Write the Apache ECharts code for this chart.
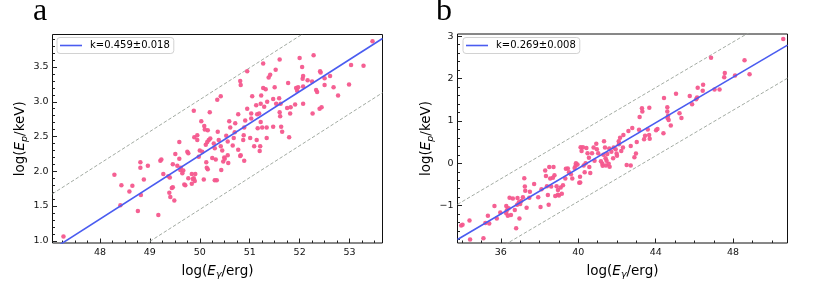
<!DOCTYPE html>
<html><head><meta charset="utf-8">
<script src="https://cdn.jsdelivr.net/npm/echarts@6/dist/echarts.min.js"></script>
<style>html,body{margin:0;padding:0;background:#fff}#c{width:830px;height:285px}</style>
</head><body><div id="c"></div>
<script>
// ---------- data ----------
const panelLabels = ['a', 'b'];
const legendTexts = ['k=0.459±0.018', 'k=0.269±0.008'];

const aPoints = [
[47.27,1.06],
[48.29,1.95],[48.43,1.80],[48.41,1.51],[48.59,1.71],[48.65,1.79],[48.76,1.43],[48.81,2.13],[48.81,2.05],[48.82,1.66],[48.88,1.88],[48.96,2.08],
[49.17,1.37],[49.21,2.15],[49.23,2.17],[49.27,1.96],[49.37,1.93],[49.40,1.91],[49.39,1.69],[49.41,1.63],[49.44,1.76],[49.46,1.77],[49.49,1.58],[49.46,2.10],[49.51,2.25],[49.59,2.42],[49.61,2.02],[49.59,2.18],[49.62,2.05],[49.67,2.01],[49.69,1.81],[49.71,1.80],[49.75,2.28],[49.77,2.26],[49.77,1.90],[49.84,1.96],[49.84,1.82],[49.86,1.89],[49.88,1.90],[49.89,2.49],[49.90,1.86],[49.91,1.96],[49.95,2.52],[49.95,2.45],[49.98,2.21],[49.88,2.87],[49.65,1.97],[49.55,2.08],
[50.03,2.72],[50.08,1.88],[50.09,2.65],[50.10,2.60],[50.13,2.13],[50.14,2.05],[50.16,2.03],[50.16,2.59],[50.18,2.45],[50.20,2.85],[50.21,2.47],[50.30,1.87],[50.32,2.17],[50.35,3.03],[50.42,3.08],[50.36,2.57],[50.34,1.87],[50.43,2.02],[50.42,2.36],[50.45,2.30],[50.49,2.20],[50.56,2.23],[50.57,2.12],[50.53,2.51],[50.56,2.43],[50.59,2.72],[50.61,2.63],[50.66,2.37],[50.68,2.48],[50.70,2.56],[50.71,2.69],[50.77,2.82],[50.77,2.31],[50.81,2.22],[50.81,3.30],[50.82,3.24],[50.82,2.23],[50.87,2.45],[50.88,2.52],[50.89,2.63],[50.89,2.15],[50.91,2.73],[50.95,2.90],[50.95,3.44],
[50.00,2.30],[50.05,2.28],[50.12,2.38],[50.15,2.42],[50.25,2.19],[50.28,2.40],[50.30,2.33],[50.38,2.45],[50.47,2.14],[50.50,2.18],
[51.01,2.48],[51.03,2.76],[51.03,2.83],[51.05,3.08],[51.09,2.36],[51.13,2.95],[51.14,2.45],[51.15,2.82],[51.16,2.62],[51.20,2.29],[51.21,2.36],[51.19,2.83],[51.22,2.71],[51.22,2.97],[51.23,3.09],[51.25,2.63],[51.27,3.55],[51.27,3.20],[51.29,2.93],[51.32,3.18],[51.34,2.63],[51.34,2.48],[51.35,3.00],[51.38,3.35],[51.41,3.39],[51.47,3.04],[51.47,2.64],[51.50,3.21],[51.52,3.46],[51.53,2.97],[51.59,3.05],[51.60,3.61],[51.60,2.85],[51.61,2.79],[51.62,2.97],[51.63,2.64],[51.65,2.57],[51.75,2.91],[51.77,3.27],[51.79,2.49],[51.81,2.83],[51.82,2.92],[51.91,2.96],[51.93,3.20],[51.95,3.16],[51.97,3.21],
[52.00,3.63],[52.05,3.50],[52.06,3.33],[52.07,3.37],[52.07,3.22],[52.07,2.97],[52.16,3.31],[52.25,3.29],[52.26,2.83],[52.28,3.67],[52.33,3.17],[52.35,3.14],[52.40,2.90],[52.44,2.92],[52.41,3.44],[52.42,3.42],[52.50,3.34],[52.50,3.24],[52.61,3.37],[52.68,3.21],[52.77,3.09],[52.99,3.25],[53.03,3.53],[53.28,3.52],[53.46,3.87]
];

const bPoints = [
[33.95,-1.47],[34.02,-1.45],[34.38,-1.35],[34.41,-1.80],[35.10,-1.77],[35.20,-1.41],[35.33,-1.24],[35.40,-1.42],[35.67,-1.01],[35.79,-1.30],[35.97,-1.16],
[36.28,-1.01],[36.28,-1.18],[36.31,-1.11],[36.36,-1.24],[36.40,-1.06],[36.45,-0.81],[36.52,-1.22],[36.62,-0.83],[36.72,-1.10],[36.79,-1.53],[36.84,-0.98],[36.86,-0.82],[36.93,-0.92],[36.96,-1.30],[37.00,-0.96],[37.05,-0.89],[37.14,-0.80],[37.21,-0.35],[37.24,-0.55],[37.26,-0.65],[37.33,-1.05],[37.47,-0.81],[37.50,-0.67],[37.72,-0.49],[37.93,-0.80],
[38.05,-1.03],[38.10,-0.61],[38.29,-0.17],[38.33,-0.30],[38.38,-0.54],[38.43,-0.75],[38.47,-0.98],[38.50,-0.09],[38.55,-0.36],[38.60,-0.55],[38.69,-0.34],[38.72,-0.09],[38.77,-0.28],[38.81,-0.77],[38.88,-0.54],[38.95,-0.63],[38.95,-0.74],[39.00,-0.76],[39.09,-0.57],[39.15,-0.72],[39.21,-0.52],[39.33,-0.36],[39.36,-0.13],[39.46,-0.12],[39.52,-0.21],[39.62,-0.26],[39.69,-0.36],[39.81,-0.11],[39.86,-0.06],[39.88,0.00],[39.96,-0.03],
[40.05,-0.46],[40.09,-0.32],[40.12,0.38],[40.17,0.29],[40.10,-0.45],[40.24,0.38],[40.28,-0.05],[40.33,-0.21],[40.38,0.00],[40.42,0.36],[40.48,0.24],[40.55,0.13],[40.62,-0.23],[40.57,-0.09],[40.71,0.24],[40.79,0.37],[40.84,0.06],[40.93,0.46],[40.96,0.33],
[41.03,0.24],[41.17,0.05],[41.24,-0.01],[41.26,-0.06],[41.33,0.52],[41.38,0.37],[41.41,0.12],[41.43,-0.05],[41.50,0.22],[41.57,-0.01],[41.62,-0.08],[41.71,0.27],[41.83,0.37],[41.93,0.33],[41.98,0.23],[41.30,0.20],[41.46,0.06],[41.60,0.35],[41.80,0.12],[42.00,0.18],[42.10,0.45],
[42.09,0.52],[42.16,0.60],[42.22,0.29],[42.31,0.37],[42.50,-0.04],[42.33,0.67],[42.59,0.76],[42.71,0.41],[42.71,-0.05],[42.79,0.83],[42.98,0.23],[42.90,0.14],
[43.02,0.50],[43.14,0.79],[43.17,1.09],[43.29,1.30],[43.31,1.22],[43.40,0.57],[43.45,0.65],[43.59,0.80],[43.66,0.67],[43.69,0.58],[43.67,1.31],
[44.02,0.78],[44.09,0.81],[44.40,0.71],[44.43,1.54],[44.60,1.32],[44.60,1.22],[44.62,1.06],[44.64,1.12],[44.67,1.02],[44.78,0.89],
[45.05,1.64],[45.23,1.18],[45.33,1.07],[45.76,1.59],[45.88,1.39],[46.09,1.51],[46.14,1.55],[46.17,1.78],[46.43,1.71],[46.45,1.85],[46.86,2.49],
[47.04,1.74],[47.30,1.74],[47.54,2.03],[47.57,2.13],[48.10,2.07],[48.59,2.43],[48.85,2.10],[50.59,2.93]
];

// fitted relation: y = slope*x + intercept, with dashed offsets
const aFit = [0.459, -20.72, 0.80, -0.78];
const bFit = [0.269, -10.88, 0.83, -0.78];

const aXRange = [47.05, 53.66], aYRange = [0.968, 3.968];
const bXRange = [33.76, 50.81], bYRange = [-1.88, 3.05];

const aXTicks = [48, 49, 50, 51, 52, 53];
const aYTicks = [1.0, 1.5, 2.0, 2.5, 3.0, 3.5];
const bXTicks = [36, 40, 44, 48];
const bYTicks = [-1, 0, 1, 2, 3];

// ---------- build ----------
function steps(from, to, step) { const r = []; for (let v = from; v <= to + 1e-9; v += step) r.push(+v.toFixed(4)); return r; }
const aXMinor = steps(47.25, 53.5, 0.25), aYMinor = steps(1.0, 3.9, 0.1);
const bXMinor = steps(34, 50, 1), bYMinor = steps(-1.8, 3.0, 0.2);

const FONT = 'DejaVu Sans';
const TICK = '#222';
const grids = [
  { left: 52.5, top: 34.5, width: 330, height: 214 },
  { left: 457.5, top: 34, width: 330, height: 214.5 }
];
grids.forEach(g => { g.show = true; g.borderColor = '#111'; g.borderWidth = 1; });

const rich = {
  n: { fontFamily: FONT, fontSize: 13.5, color: '#000', lineHeight: 18 },
  i: { fontFamily: FONT, fontSize: 13.5, fontStyle: 'italic', color: '#000', lineHeight: 18 },
  s: { fontFamily: FONT, fontSize: 9.5, fontStyle: 'italic', color: '#000', lineHeight: 12, verticalAlign: 'bottom' }
};
const xName = '{n|log(}{i|E}{s|γ}{n|/erg)}';
const yName = '{n|log(}{i|E}{s|p}{n|/keV)}';

function mainAxis(dim, gi, range, ticks, fmt, withName) {
  return {
    type: 'value', gridIndex: gi, min: range[0], max: range[1],
    splitLine: { show: false }, axisLine: { show: false, onZero: false },
    axisTick: { show: true, inside: true, length: 4.5, lineStyle: { color: TICK, width: 1 }, customValues: ticks },
    axisLabel: { show: true, customValues: ticks, formatter: fmt, fontFamily: FONT, fontSize: 9.5, color: '#111', margin: dim === 'x' ? 5 : 4 },
    name: withName, nameLocation: 'middle', nameTextStyle: { rich: rich },
    nameGap: dim === 'x' ? 19 : 23
  };
}
function minorAxis(dim, gi, range, ticks) {
  return {
    type: 'value', gridIndex: gi, min: range[0], max: range[1],
    position: dim === 'x' ? 'bottom' : 'left',
    splitLine: { show: false }, axisLine: { show: false, onZero: false }, axisLabel: { show: false },
    axisTick: { show: true, inside: true, length: 2.5, lineStyle: { color: TICK, width: 1 }, customValues: ticks }
  };
}
const fmt1 = v => v.toFixed(1);
const fmt0 = v => (v < 0 ? '\u2212' + Math.abs(v) : String(v));

const xAxis = [
  mainAxis('x', 0, aXRange, aXTicks, v => String(v), xName), minorAxis('x', 0, aXRange, aXMinor),
  mainAxis('x', 1, bXRange, bXTicks, v => String(v), xName), minorAxis('x', 1, bXRange, bXMinor)
];
const yAxis = [
  mainAxis('y', 0, aYRange, aYTicks, fmt1, yName), minorAxis('y', 0, aYRange, aYMinor),
  mainAxis('y', 1, bYRange, bYTicks, fmt0, yName), minorAxis('y', 1, bYRange, bYMinor)
];
yAxis[0].nameGap = 23; yAxis[2].nameGap = 19;

function lineData(fit, range, off) {
  return [range[0], range[1]].map(x => [x, fit[0] * x + fit[1] + off]);
}

const BLUE = '#4a5cf0';
const series = [];
[[aPoints, aFit, aXRange, 0], [bPoints, bFit, bXRange, 2]].forEach(([pts, fit, xr, ai], k) => {
  series.push({ type: 'line', xAxisIndex: ai, yAxisIndex: ai, data: lineData(fit, xr, fit[2]), symbol: 'none', silent: true, clip: true,
    lineStyle: { color: '#a3aba3', width: 1, type: [3.5, 2] }, z: 1 });
  series.push({ type: 'line', xAxisIndex: ai, yAxisIndex: ai, data: lineData(fit, xr, fit[3]), symbol: 'none', silent: true, clip: true,
    lineStyle: { color: '#a3aba3', width: 1, type: [3.5, 2] }, z: 1 });
  series.push({ type: 'scatter', xAxisIndex: ai, yAxisIndex: ai, data: pts, symbol: 'circle', symbolSize: 4.5, silent: true,
    itemStyle: { color: '#f4578d', opacity: 0.95 }, z: 2 });
  series.push({ name: legendTexts[k], type: 'line', xAxisIndex: ai, yAxisIndex: ai, data: lineData(fit, xr, 0), symbol: 'none', clip: true,
    itemStyle: { color: BLUE }, lineStyle: { color: BLUE, width: 1.6 }, z: 3 });
});

const legends = legendTexts.map((t, k) => ({
  data: [t], left: k === 0 ? 57 : 463, top: 37.5, orient: 'horizontal',
  icon: 'rect', itemWidth: 22, itemHeight: 1.6,
  itemStyle: { color: BLUE },
  padding: [3, 4, 3, 3], borderColor: '#d2d2d2', borderWidth: 1, borderRadius: 3, backgroundColor: '#fff',
  textStyle: { fontFamily: FONT, fontSize: 10, color: '#000', padding: [0, 0, 0, 3] },
  selectedMode: false
}));

const chart = echarts.init(document.getElementById('c'), null, { renderer: 'canvas' });
chart.setOption({
  animation: false,
  backgroundColor: '#fff',
  grid: grids, xAxis: xAxis, yAxis: yAxis, series: series, legend: legends,
  graphic: panelLabels.map((t, k) => ({
    type: 'text', left: k === 0 ? 33 : 436, top: -4,
    style: { text: t, font: '32px "Liberation Serif"', fill: '#000' }
  }))
});
</script></body></html>
